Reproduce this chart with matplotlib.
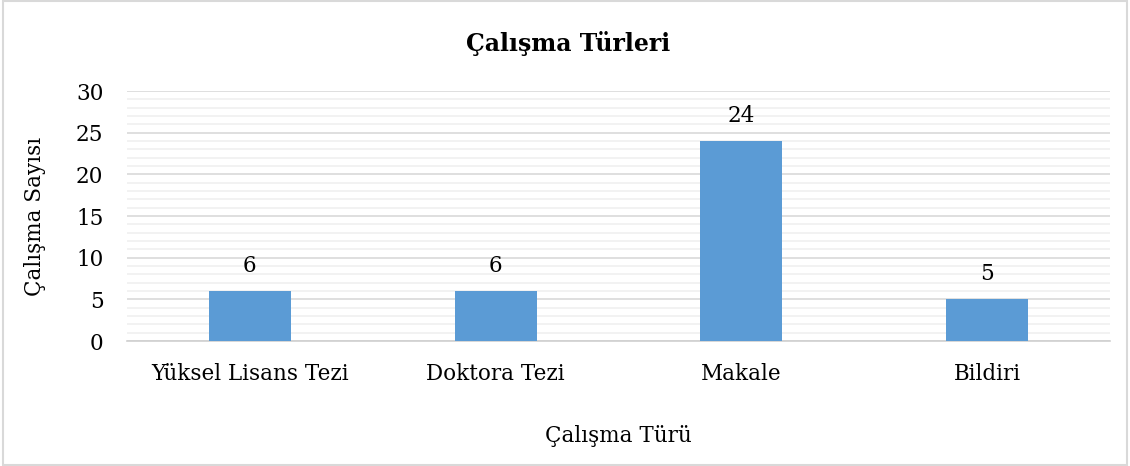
import numpy as np
import matplotlib.pyplot as plt
from matplotlib.patches import Rectangle
from matplotlib.ticker import MultipleLocator

# veriler
turler = ["Yüksel Lisans Tezi", "Doktora Tezi", "Makale", "Bildiri"]
sayilar = [6, 6, 24, 5]

plt.rcParams['font.family'] = ['DejaVu Serif', 'Liberation Serif']
fs = 15.5

fig = plt.figure(figsize=(11.3, 4.66), dpi=100)
ax = fig.add_axes([0.1124, 0.2682, 0.8699, 0.5365])

x = np.arange(len(turler))
bars = ax.bar(x, sayilar, width=0.334, color='#5B9BD5', zorder=3)

ax.set_xlim(-0.5, len(turler) - 0.5)
ax.set_ylim(0, 30)
ax.yaxis.set_major_locator(MultipleLocator(5))
ax.yaxis.set_minor_locator(MultipleLocator(1))
ax.grid(which='major', axis='y', color='#d9d9d9', linewidth=1.2, zorder=0)
ax.grid(which='minor', axis='y', color='#f0f0f0', linewidth=1.2, zorder=0)
ax.set_axisbelow(True)

for s in ['top', 'right', 'left']:
    ax.spines[s].set_visible(False)
ax.spines['bottom'].set_color('#d0d0d0')
ax.spines['bottom'].set_linewidth(1.2)

ax.set_xticks(x)
ax.set_xticklabels(turler)
ax.tick_params(axis='both', which='both', length=0, labelsize=fs, colors='#000000')
ax.tick_params(axis='x', pad=16)
ax.tick_params(axis='y', pad=17)

# değer etiketleri
for b, v in zip(bars, sayilar):
    ax.annotate(str(v), (b.get_x() + b.get_width() / 2, v), xytext=(0, 10),
                textcoords='offset points', ha='center', va='bottom', fontsize=fs)

ax.set_ylabel("Çalışma Sayısı", fontsize=fs, va='center')
ax.yaxis.set_label_coords(-92 / 983, 0.5)
ax.set_xlabel("Çalışma Türü", fontsize=fs, va='center')
ax.xaxis.set_label_coords(0.5, -95 / 250)
fig.text(0.503, 0.906, "Çalışma Türleri", ha='center', va='center',
         fontsize=17, fontweight='bold')

# çerçeve
fig.patches.append(Rectangle((0.003, 0.003), 0.994, 0.994, transform=fig.transFigure,
                             fill=False, edgecolor='#d9d9d9', linewidth=1.5))

fig.savefig('out.png', dpi=100)
